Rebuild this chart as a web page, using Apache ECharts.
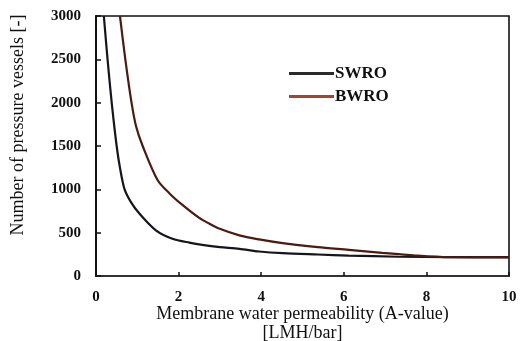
<!DOCTYPE html>
<html>
<head>
<meta charset="utf-8">
<script src="https://cdn.jsdelivr.net/npm/echarts@6/dist/echarts.min.js"></script>
<style>
  html, body { margin: 0; padding: 0; background: #fff; }
  #chart { width: 520px; height: 341px; }
</style>
</head>
<body>
<div id="chart"></div>
<script>
// Membrane water permeability (A-value, LMH/bar)
const swroA = [0.19, 0.28, 0.38, 0.50, 0.58, 0.69, 0.85, 1.05, 1.45, 1.85, 2.26, 2.70, 3.00, 3.47, 3.95, 4.52, 5.37, 6.12, 7.33, 8.54, 10.0];
// Number of pressure vessels, SWRO
const swroN = [3000, 2500, 2000, 1500, 1250, 1003, 850, 721, 527, 430, 385, 350, 333, 314, 283, 263, 248, 236, 222, 218, 218];

const bwroA = [0.58, 0.71, 0.86, 0.97, 1.13, 1.49, 1.78, 2.10, 2.50, 2.74, 2.98, 3.47, 3.95, 4.52, 5.37, 6.12, 6.93, 7.74, 8.54, 10.0];
// Number of pressure vessels, BWRO
const bwroN = [3000, 2500, 2000, 1728, 1500, 1108, 953, 817, 670, 605, 547, 469, 422, 379, 333, 302, 267, 236, 217, 215];

const xTicks = [0, 2, 4, 6, 8, 10];
const yTicks = [0, 500, 1000, 1500, 2000, 2500, 3000];

const pairs = (xs, ys) => xs.map((x, i) => [x, ys[i]]);
const serif = '"Liberation Serif", "DejaVu Serif", serif';

const chart = echarts.init(document.getElementById('chart'), null, { renderer: 'canvas' });
chart.setOption({
  animation: false,
  backgroundColor: '#fff',
  grid: {
    left: 96, right: 11, top: 16, bottom: 65,
    outerBoundsMode: 'none', containLabel: false,
    show: true, borderColor: '#111', borderWidth: 1.6, backgroundColor: 'transparent'
  },
  legend: {
    orient: 'vertical',
    left: 284, top: 60,
    itemWidth: 45, itemHeight: 3, itemGap: 6,
    icon: 'rect',
    textStyle: { fontFamily: serif, fontSize: 17, fontWeight: 'bold', color: '#111', padding: [0, 0, 0, -4] },
    data: ['SWRO', 'BWRO']
  },
  xAxis: {
    type: 'value',
    min: xTicks[0], max: xTicks[xTicks.length - 1], interval: 2,
    name: 'Membrane water permeability (A-value)\n[LMH/bar]',
    nameLocation: 'middle', nameGap: 29, nameMoveOverlap: false,
    nameTextStyle: { fontFamily: serif, fontSize: 18, color: '#111', lineHeight: 19 },
    axisLine: { lineStyle: { color: '#333', width: 2 } },
    axisTick: { inside: true, length: 4, lineStyle: { color: '#111', width: 1.5 } },
    axisLabel: { fontFamily: serif, fontSize: 15, fontWeight: 'bold', color: '#111', margin: 14 },
    splitLine: { show: false }
  },
  yAxis: {
    type: 'value',
    min: yTicks[0], max: yTicks[yTicks.length - 1], interval: 500,
    name: 'Number of pressure vessels [-]',
    nameLocation: 'middle', nameGap: 69, nameMoveOverlap: false,
    nameTextStyle: { fontFamily: serif, fontSize: 18, color: '#111', padding: [0, 0, 0, 42] },
    axisLine: { show: true, lineStyle: { color: '#111', width: 2 } },
    axisTick: { show: true, inside: true, length: 5, lineStyle: { color: '#111', width: 1.5 } },
    axisLabel: {
      fontFamily: serif, fontSize: 15, fontWeight: 'bold', color: '#111', margin: 15,
      formatter: (v) => String(v)
    },
    splitLine: { show: false }
  },
  series: [
    {
      name: 'SWRO', type: 'line', smooth: 0.3, showSymbol: false,
      data: pairs(swroA, swroN),
      lineStyle: { color: '#15151c', width: 2.2 },
      itemStyle: { color: '#2a2a2a' }
    },
    {
      name: 'BWRO', type: 'line', smooth: 0.3, showSymbol: false,
      data: pairs(bwroA, bwroN),
      lineStyle: { color: '#4a1c10', width: 2.2 },
      itemStyle: { color: '#a8442c' }
    }
  ]
});
</script>
</body>
</html>
